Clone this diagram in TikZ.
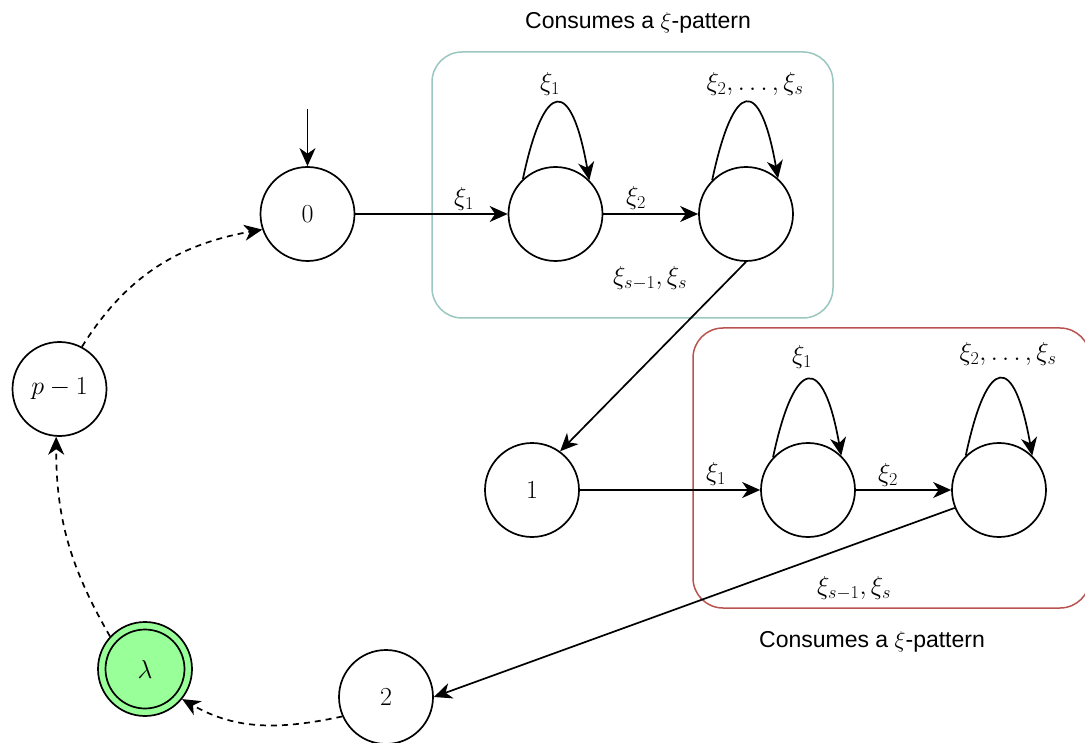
\RequirePackage{fix-cm}
\documentclass[tikz,border=0pt]{standalone}
\usepackage{fontspec}
\setsansfont{Liberation Sans}
\usetikzlibrary{arrows.meta}
\definecolor{boxteal}{HTML}{9AC7BF}
\definecolor{boxred}{HTML}{B85450}
\definecolor{accgreen}{HTML}{99FF99}
\newcommand\lblfont{\fontsize{26}{30}\selectfont}
\newcommand\ttlfont{\sffamily\fontsize{23}{27}\selectfont}
\begin{document}
\begin{tikzpicture}[x=1pt,y=-1pt,
  state/.style={circle,draw,line width=1.7pt,minimum size=94pt,inner sep=0pt,font=\lblfont},
  lbl/.style={inner sep=0pt,font=\lblfont},
  ttl/.style={inner sep=0pt,font=\ttlfont},
  arr/.style={line width=1.7pt,-{Stealth[length=18pt,width=16pt,inset=5.5pt]}},
  dsh/.style={dash pattern=on 6pt off 5pt},
  grp/.style={rounded corners=30pt,line width=1.5pt}]
\useasboundingbox (0,0) rectangle (1085,743);
% group boxes
\draw[grp,boxteal] (432,52) rectangle (833,318);
\draw[grp,boxred] (693,328) rectangle (1090,608);
% states
\node[state] (n0) at (307.5,214) {$0$};
\node[state] (a1) at (555.5,214) {};
\node[state] (a2) at (746,214) {};
\node[state] (n1) at (532,490) {$1$};
\node[state] (b1) at (808,490) {};
\node[state] (b2) at (999,490) {};
\node[state] (n2) at (386,697) {$2$};
\node[state] (pm) at (59.5,389) {$p-1$};
\node[state,fill=accgreen] (lam) at (145,669) {$\lambda$};
\draw[line width=1.7pt] (lam.center) circle (39.5pt);
% initial arrow
\coordinate (init) at (307.5,109);
\draw[arr] (init) -- (n0);
% solid transitions
\draw[arr] (n0) -- (a1);
\draw[arr] (a1) -- (a2);
\draw[arr] (a2.south) -- (n1.54);
\draw[arr] (n1) -- (b1);
\draw[arr] (b1) -- (b2);
\draw[arr] (b2.202) -- (n2.east);
% loops
\draw[arr] (a1.133) .. controls +(-78:104) and +(-100:104) .. (a1.45);
\draw[arr] (a2.135) .. controls +(-78:104) and +(-100:104) .. (a2.48);
\draw[arr] (b1.137) .. controls +(-78:104) and +(-100:104) .. (b1.46);
\draw[arr] (b2.134) .. controls +(-78:104) and +(-100:104) .. (b2.46);
% dashed transitions
\draw[arr,dsh] (n2.204) to[out=192,in=-30] (lam.321);
\draw[arr,dsh] (lam.137) to[out=120,in=-90] (pm.266);
\draw[arr,dsh] (pm.62) to[out=58,in=190] (n0.199);
% labels box A
\node[lbl] (la1) at (464,199) {$\xi_1$};
\node[lbl] (la2) at (636,198) {$\xi_2$};
\node[lbl] (la3) at (650,278) {$\xi_{s-1},\xi_s$};
\node[lbl] (la4) at (550,84) {$\xi_1$};
\node[lbl] (la5) at (755,84) {$\xi_2,\ldots,\xi_s$};
% labels box B
\node[lbl] (lb1) at (716,474) {$\xi_1$};
\node[lbl] (lb2) at (888,475) {$\xi_2$};
\node[lbl] (lb3) at (854,588) {$\xi_{s-1},\xi_s$};
\node[lbl] (lb4) at (802,357) {$\xi_1$};
\node[lbl] (lb5) at (1008,354) {$\xi_2,\ldots,\xi_s$};
% titles
\node[ttl] (t1) at (638,23) {Consumes a $\xi$-pattern};
\node[ttl] (t2) at (872,642) {Consumes a $\xi$-pattern};
\end{tikzpicture}
\end{document}
